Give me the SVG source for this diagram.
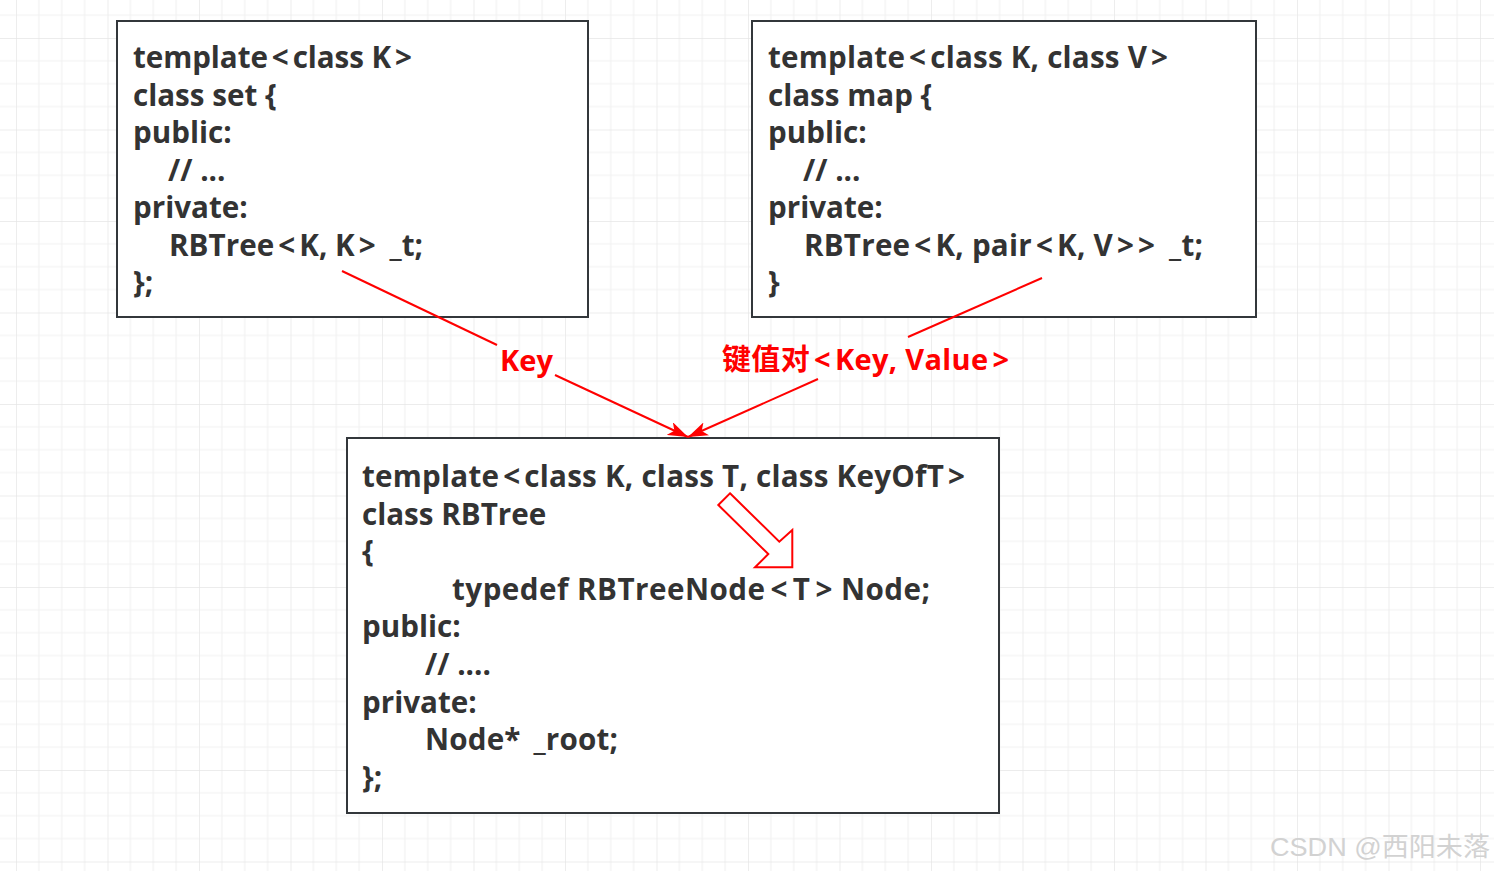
<svg xmlns="http://www.w3.org/2000/svg" width="1494" height="871" viewBox="0 0 1494 871">
<style>
.box{fill:#ffffff;stroke:#33373b;stroke-width:2}
.code{font-family:"Open Sans","Noto Sans CJK SC",sans-serif;font-weight:bold;font-size:29.6px;fill:#333333}
.lbl{font-family:"Open Sans","Noto Sans CJK SC",sans-serif;font-weight:bold;font-size:29px;fill:#ff0000}
.edge{stroke:#ff0000;stroke-width:2;fill:none}
.wm{font-family:"Liberation Sans","Noto Sans CJK SC",sans-serif;font-size:26.5px;fill:#d2d2d2}
</style>
<defs>
<pattern id="grid" x="16" y="38" width="91.5" height="91.5" patternUnits="userSpaceOnUse">
<path d="M22.875 0V91.5M45.75 0V91.5M68.625 0V91.5M0 22.875H91.5M0 45.75H91.5M0 68.625H91.5" stroke="#f2f2f2" stroke-width="1.2" fill="none"/>
<path d="M0 0V91.5M0 0H91.5" stroke="#e6e6e6" stroke-width="1.4" fill="none"/>
</pattern>
<marker id="arr" viewBox="0 0 20 14" refX="20" refY="7" markerWidth="20" markerHeight="14" markerUnits="userSpaceOnUse" orient="auto">
<path d="M0 0L20 7L0 14L5 7Z" fill="#ff0000"/>
</marker>
</defs>
<rect width="1494" height="871" fill="#ffffff"/>
<rect width="1494" height="871" fill="url(#grid)"/>

<g id="set">
<rect class="box" x="117" y="21" width="471" height="296"/>
<text class="code" x="133" y="68" textLength="279" lengthAdjust="spacing">template<tspan dx="4">&lt;</tspan><tspan dx="4">class K</tspan><tspan dx="4">&gt;</tspan></text>
<text class="code" x="133" y="105.5">class set {</text>
<text class="code" x="133" y="143">public:</text>
<text class="code" x="168" y="180.5">// ...</text>
<text class="code" x="133" y="218">private:</text>
<text class="code" x="169" y="255.5" textLength="254" lengthAdjust="spacing">RBTree<tspan dx="4">&lt;</tspan><tspan dx="4">K, K</tspan><tspan dx="4">&gt;</tspan><tspan dx="6"> _t;</tspan></text>
<text class="code" x="133" y="293">};</text>
</g>

<g id="map">
<rect class="box" x="752" y="21" width="504" height="296"/>
<text class="code" x="768" y="68" textLength="400" lengthAdjust="spacing">template<tspan dx="4">&lt;</tspan><tspan dx="4">class K, class V</tspan><tspan dx="4">&gt;</tspan></text>
<text class="code" x="768" y="105.5">class map {</text>
<text class="code" x="768" y="143">public:</text>
<text class="code" x="803" y="180.5">// ...</text>
<text class="code" x="768" y="218">private:</text>
<text class="code" x="804" y="255.5" textLength="399" lengthAdjust="spacing">RBTree<tspan dx="4">&lt;</tspan><tspan dx="4">K, pair</tspan><tspan dx="4">&lt;</tspan><tspan dx="4">K, V</tspan><tspan dx="4">&gt;</tspan><tspan dx="4">&gt;</tspan><tspan dx="6"> _t;</tspan></text>
<text class="code" x="768" y="293">}</text>
</g>

<g id="rbtree">
<rect class="box" x="347" y="438" width="652" height="375"/>
<text class="code" x="362" y="487" textLength="603" lengthAdjust="spacing">template<tspan dx="4">&lt;</tspan><tspan dx="4">class K, class T, class KeyOfT</tspan><tspan dx="4">&gt;</tspan></text>
<text class="code" x="362" y="524.6">class RBTree</text>
<text class="code" x="362" y="562.2">{</text>
<text class="code" x="452" y="599.8" textLength="478" lengthAdjust="spacing">typedef RBTreeNode<tspan dx="5">&lt;</tspan><tspan dx="5">T</tspan><tspan dx="5">&gt;</tspan> Node;</text>
<text class="code" x="362" y="637.4">public:</text>
<text class="code" x="425" y="675">// ....</text>
<text class="code" x="362" y="712.6">private:</text>
<text class="code" x="425" y="750.2" textLength="193" lengthAdjust="spacing">Node*<tspan dx="5"> _root;</tspan></text>
<text class="code" x="362" y="787.8">};</text>
<polygon points="730,493.3 779.3,541.7 792.3,530 792.3,567.3 755,567.3 768.3,554 718.3,505" fill="#ffffff" stroke="#ff0000" stroke-width="2"/>
</g>

<g id="connectors">
<line class="edge" x1="342" y1="271" x2="497" y2="345"/>
<line class="edge" x1="555" y1="375" x2="688" y2="437" marker-end="url(#arr)"/>
<text class="lbl" x="500" y="371">Key</text>
<line class="edge" x1="1042" y1="278" x2="908" y2="337"/>
<line class="edge" x1="818" y1="379" x2="688" y2="437" marker-end="url(#arr)"/>
<text class="lbl" x="722" y="370" textLength="287" lengthAdjust="spacing">键值对<tspan dx="4">&lt;</tspan><tspan dx="4">Key, Value</tspan><tspan dx="4">&gt;</tspan></text>
</g>

<text class="wm" x="1270" y="856" textLength="220" lengthAdjust="spacingAndGlyphs">CSDN @西阳未落</text>
</svg>
